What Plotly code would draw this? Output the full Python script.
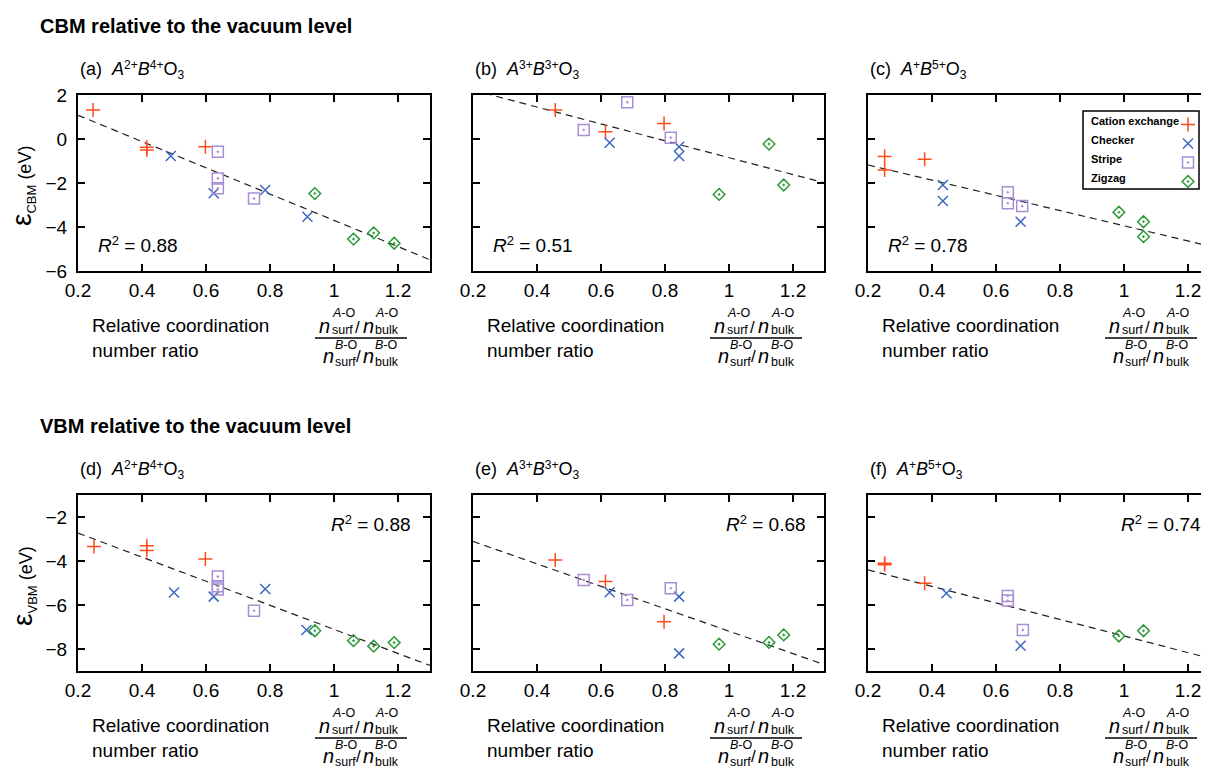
import plotly.graph_objects as go

W, H = 1209, 766
OFF = 8  # the page body margin shifts the figure by this many pixels
FONT = "Arial, 'Liberation Sans', sans-serif"

# ---------------- data ----------------
x_tick_vals = [0.2, 0.4, 0.6, 0.8, 1.0, 1.2]
x_tick_text = ["0.2", "0.4", "0.6", "0.8", "1", "1.2"]
cbm_tick_vals = [-6, -4, -2, 0, 2]
cbm_tick_text = ["\u22126", "\u22124", "\u22122", "0", "2"]
vbm_tick_vals = [-8, -6, -4, -2]
vbm_tick_text = ["\u22128", "\u22126", "\u22124", "\u22122"]

series_names = ["Cation exchange", "Checker", "Stripe", "Zigzag"]
fit_x = [0.2, 1.3]

# (a) CBM, A2+B4+O3
a_cat_x = [0.247, 0.415, 0.415, 0.598]; a_cat_y = [1.32, -0.38, -0.50, -0.35]
a_chk_x = [0.490, 0.624, 0.785, 0.917]; a_chk_y = [-0.77, -2.47, -2.32, -3.53]
a_str_x = [0.637, 0.637, 0.637, 0.750]; a_str_y = [-0.58, -1.79, -2.24, -2.70]
a_zig_x = [0.940, 1.061, 1.124, 1.188]; a_zig_y = [-2.48, -4.55, -4.27, -4.74]
a_fit_y = [1.08, -5.49]

# (b) CBM, A3+B3+O3
b_cat_x = [0.457, 0.614, 0.797]; b_cat_y = [1.32, 0.33, 0.71]
b_chk_x = [0.627, 0.844, 0.844]; b_chk_y = [-0.17, -0.35, -0.77]
b_str_x = [0.546, 0.682, 0.818]; b_str_y = [0.41, 1.67, 0.06]
b_zig_x = [0.969, 1.125, 1.171]; b_zig_y = [-2.52, -0.23, -2.09]
b_fit_y = [2.22, -2.00]

# (c) CBM, A+B5+O3
c_cat_x = [0.252, 0.252, 0.377]; c_cat_y = [-0.80, -1.41, -0.92]
c_chk_x = [0.434, 0.434, 0.677]; c_chk_y = [-2.09, -2.82, -3.76]
c_str_x = [0.637, 0.637, 0.682]; c_str_y = [-2.42, -2.92, -3.05]
c_zig_x = [0.984, 1.061, 1.061]; c_zig_y = [-3.33, -3.76, -4.44]
c_fit_y = [-1.18, -4.98]

# (d) VBM, A2+B4+O3
d_cat_x = [0.250, 0.415, 0.415, 0.598]; d_cat_y = [-3.34, -3.31, -3.52, -3.91]
d_chk_x = [0.500, 0.624, 0.785, 0.914]; d_chk_y = [-5.43, -5.62, -5.27, -7.14]
d_str_x = [0.637, 0.637, 0.637, 0.750]; d_str_y = [-4.71, -5.15, -5.30, -6.26]
d_zig_x = [0.940, 1.061, 1.124, 1.188]; d_zig_y = [-7.17, -7.62, -7.87, -7.71]
d_fit_y = [-2.73, -8.75]

# (e) VBM, A3+B3+O3
e_cat_x = [0.457, 0.614, 0.797]; e_cat_y = [-3.95, -4.93, -6.76]
e_chk_x = [0.627, 0.844, 0.844]; e_chk_y = [-5.42, -5.62, -8.20]
e_str_x = [0.546, 0.682, 0.818]; e_str_y = [-4.86, -5.77, -5.24]
e_zig_x = [0.969, 1.125, 1.171]; e_zig_y = [-7.78, -7.70, -7.36]
e_fit_y = [-3.11, -8.72]

# (f) VBM, A+B5+O3
f_cat_x = [0.252, 0.252, 0.377]; f_cat_y = [-4.10, -4.17, -5.01]
f_chk_x = [0.445, 0.677]; f_chk_y = [-5.47, -7.85]
f_str_x = [0.637, 0.637, 0.684]; f_str_y = [-5.59, -5.80, -7.14]
f_zig_x = [0.984, 1.061]; f_zig_y = [-7.41, -7.17]
f_fit_y = [-4.40, -8.54]

r2_values = ["0.88", "0.51", "0.78", "0.88", "0.68", "0.74"]
panel_letters = ["(a)", "(b)", "(c)", "(d)", "(e)", "(f)"]
charges = [("2+", "4+"), ("3+", "3+"), ("+", "5+"),
           ("2+", "4+"), ("3+", "3+"), ("+", "5+")]

panels = [
    [(a_cat_x, a_cat_y), (a_chk_x, a_chk_y), (a_str_x, a_str_y), (a_zig_x, a_zig_y), a_fit_y],
    [(b_cat_x, b_cat_y), (b_chk_x, b_chk_y), (b_str_x, b_str_y), (b_zig_x, b_zig_y), b_fit_y],
    [(c_cat_x, c_cat_y), (c_chk_x, c_chk_y), (c_str_x, c_str_y), (c_zig_x, c_zig_y), c_fit_y],
    [(d_cat_x, d_cat_y), (d_chk_x, d_chk_y), (d_str_x, d_str_y), (d_zig_x, d_zig_y), d_fit_y],
    [(e_cat_x, e_cat_y), (e_chk_x, e_chk_y), (e_str_x, e_str_y), (e_zig_x, e_zig_y), e_fit_y],
    [(f_cat_x, f_cat_y), (f_chk_x, f_chk_y), (f_str_x, f_str_y), (f_zig_x, f_zig_y), f_fit_y],
]

# ---------------- styles / layout geometry ----------------
colors = ["#FF4A1C", "#3D67C2", "#A88ED4", "#2E9A3A"]
symbols = ["cross-thin-open", "x-thin-open", "square-open-dot", "diamond-open-dot"]
sizes = [10, 10, 11, 9]

col_left = [78, 473, 868]
col_right = [430, 824, 1209]
row_top = [95, 495]
row_bot = [271, 671]
PX_PER_UNIT = 320.0


def px(xp):
    return (xp - OFF) / W


def py(yp):
    return 1 - (yp - OFF) / H


def sup(t, size, shift):
    return f"<span style='font-size:{size}px;baseline-shift:{shift}px'>{t}</span>"


def sub(t, size, shift):
    return f"<span style='font-size:{size}px;baseline-shift:-{shift}px'>{t}</span>"


fig = go.Figure()
layout = dict(
    width=W, height=H,
    margin=dict(l=0, r=0, t=0, b=0, autoexpand=False),
    paper_bgcolor="white", plot_bgcolor="white",
    font=dict(family=FONT, size=19, color="black"),
    showlegend=True,
)
annotations = []
shapes = []


def add_text(xp, yp, text, size=19, xanchor="left", yanchor="middle", angle=0,
             align="left", style="normal"):
    annotations.append(dict(
        x=px(xp), y=py(yp), xref="paper", yref="paper", text=text,
        showarrow=False, xanchor=xanchor, yanchor=yanchor, textangle=angle,
        align=align, borderpad=0,
        font=dict(family=FONT, size=size, color="black", style=style),
    ))


# fraction layout (pixel offsets from panel left / bottom)
# (y of n, n1 x, script x, script top label, y of sup, y of sub, slash x, slash y)
frac_rows = [
    (54.5, 240.0, 252.5, "<i>A</i>-O", 42.0, 59.0, 279.5, 56.0),
    (84.5, 243.5, 255.5, "<i>B</i>-O", 74.0, 91.0, 280.5, 85.0),
]

for i, pdata in enumerate(panels):
    row, col = divmod(i, 3)
    L, R = col_left[col], col_right[col]
    T, B = row_top[row], row_bot[row]
    xname = "x" if i == 0 else f"x{i+1}"
    yname = "y" if i == 0 else f"y{i+1}"
    xkey = "xaxis" if i == 0 else f"xaxis{i+1}"
    ykey = "yaxis" if i == 0 else f"yaxis{i+1}"

    xmax = 0.2 + (R - L) / PX_PER_UNIT
    layout[xkey] = dict(
        domain=[px(L), px(R)], anchor=yname, range=[0.2, xmax],
        showline=True, linewidth=2, linecolor="black", mirror="ticks",
        ticks="inside", ticklen=7, tickwidth=2, tickcolor="black",
        tickvals=x_tick_vals, ticktext=x_tick_text,
        showgrid=False, zeroline=False, tickfont=dict(size=19),
        ticklabelstandoff=1,
    )
    if row == 0:
        yrange, tv, tt = [-6, 2], cbm_tick_vals, cbm_tick_text
    else:
        yrange, tv, tt = [-9, -1], vbm_tick_vals, vbm_tick_text
    layout[ykey] = dict(
        domain=[py(B), py(T)], anchor=xname, range=yrange,
        showline=True, linewidth=2, linecolor="black",
        mirror=("ticks" if col < 2 else False),
        ticks="inside", ticklen=7, tickwidth=2, tickcolor="black",
        tickvals=tv, ticktext=tt, showticklabels=(col == 0),
        showgrid=False, zeroline=False, tickfont=dict(size=19),
        ticklabelstandoff=5,
    )

    # fitted dashed line
    fig.add_trace(go.Scatter(
        x=fit_x, y=pdata[4], mode="lines", xaxis=xname, yaxis=yname,
        line=dict(color="#222222", width=1.2, dash="7px,5px"),
        showlegend=False, hoverinfo="skip",
    ))
    for k in range(4):
        sx, sy = pdata[k]
        fig.add_trace(go.Scatter(
            x=sx, y=sy, mode="markers", xaxis=xname, yaxis=yname,
            name=" ", legendgroup=series_names[k],
            showlegend=(i == 0),
            marker=dict(symbol=symbols[k], size=sizes[k], color=colors[k],
                        line=dict(color=colors[k], width=1.5)),
            hovertext=series_names[k],
        ))

    # panel label
    c1, c2 = charges[i]
    add_text(L + 1, T - 25,
             f"{panel_letters[i]}&nbsp;&nbsp;<i>A</i>{sup(c1, 12, 6)}"
             f"<i>B</i>{sup(c2, 12, 6)}O{sub('3', 12, 4)}",
             size=18)
    # R^2
    r2txt = f"<i>R</i>{sup('2', 13, 7)} = {r2_values[i]}"
    if row == 0:
        add_text(L + 19, T + 149, r2txt, size=19)
    else:
        add_text(L + 334, T + 28, r2txt, size=19, xanchor="right")

    # x-axis title
    add_text(L + 13, B + 66.5, "Relative coordination<br>number ratio", size=19)
    # fraction: n with stacked super/subscripts
    for (ny, n1x, sx0, sup_lbl, sup_y, sub_y, slash_x, slash_y) in frac_rows:
        add_text(L + n1x, B + ny, "n", size=20, style="italic")
        add_text(L + sx0, B + sup_y, sup_lbl, size=12.5)
        add_text(L + sx0, B + sub_y, "surf", size=12.5)
        add_text(L + slash_x, B + slash_y, "/", size=17, xanchor="center")
        add_text(L + 284, B + ny, "n", size=20, style="italic")
        add_text(L + 296.5, B + sup_y, sup_lbl, size=12.5)
        add_text(L + 296.5, B + sub_y, "bulk", size=12.5)
    shapes.append(dict(type="line", xref="paper", yref="paper",
                       x0=px(L + 237), x1=px(L + 329), y0=py(B + 67), y1=py(B + 67),
                       line=dict(color="black", width=1.5)))

# section headings
add_text(39, 26, "<b>CBM relative to the vacuum level</b>", size=20)
add_text(39, 426, "<b>VBM relative to the vacuum level</b>", size=20)

# y-axis titles
add_text(23, 186, f"<span style='font-size:28px'>\u03b5</span>{sub('CBM', 13, 5)} (eV)",
         size=18, xanchor="center", angle=-90)
add_text(23, 586, f"<span style='font-size:28px'>\u03b5</span>{sub('VBM', 13, 5)} (eV)",
         size=18, xanchor="center", angle=-90)

# legend box and labels (markers come from the plotly legend)
shapes.append(dict(type="rect", xref="paper", yref="paper",
                   x0=px(1083), x1=px(1199), y0=py(189), y1=py(111),
                   line=dict(color="black", width=1.5), fillcolor="white", layer="below"))
for j, nm in enumerate(series_names):
    annotations.append(dict(
        x=px(1089), y=py(121 + 19 * j), xref="paper", yref="paper",
        text=f"<b>{nm}</b>", showarrow=False, xanchor="left", yanchor="middle",
        font=dict(family=FONT, size=11, color="black"),
    ))

layout["legend"] = dict(
    x=px(1168), y=py(110), xanchor="left", yanchor="top",
    bgcolor="rgba(0,0,0,0)", borderwidth=0, font=dict(size=10),
    tracegroupgap=0, itemclick=False, itemdoubleclick=False,
)
layout["annotations"] = annotations
layout["shapes"] = shapes
fig.update_layout(**layout)

fig.write_html("out.html")
